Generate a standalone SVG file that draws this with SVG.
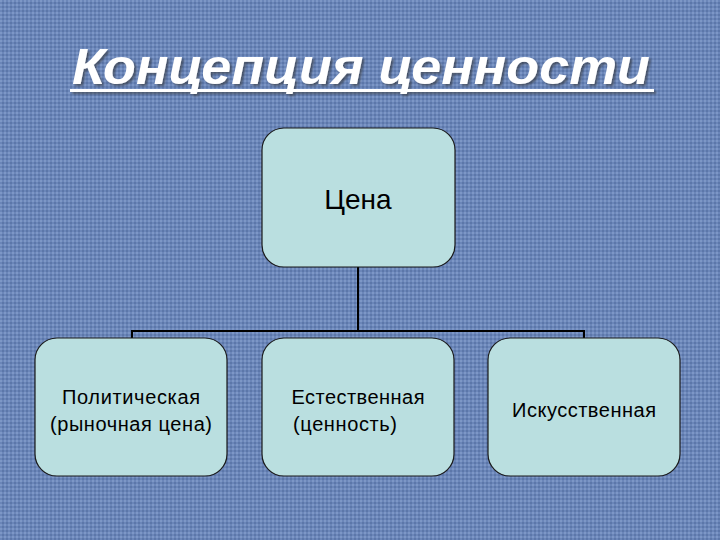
<svg xmlns="http://www.w3.org/2000/svg" width="720" height="540" viewBox="0 0 720 540">
<defs>
<pattern id="tex" width="4" height="4" patternUnits="userSpaceOnUse">
<rect width="4" height="4" fill="#6b86b9"/>
<rect width="2" height="2" fill="#7d97c6"/>
<rect x="2" y="2" width="2" height="2" fill="#5c77a9"/>
</pattern>
<filter id="sh"><feDropShadow dx="2" dy="2" stdDeviation="1" flood-color="#333" flood-opacity="0.6"/></filter>
</defs>
<style>
.box{fill:#badfe0;stroke:#1a1a1a;stroke-width:1.2}
.t{font-family:"Liberation Sans",Arial,sans-serif;font-size:20px;fill:#000;text-anchor:middle}
.c{stroke:#000;stroke-width:2;fill:none}
</style>
<rect width="720" height="540" fill="url(#tex)"/>
<g id="title" filter="url(#sh)">
<text x="72" y="84" textLength="578" lengthAdjust="spacingAndGlyphs" font-family="Liberation Sans,Arial,sans-serif" font-size="50" font-weight="bold" font-style="italic" fill="#fff">Концепция ценности</text>
<rect x="70" y="89" width="584" height="3" fill="#fff"/>
</g>
<g id="connectors">
<path class="c" d="M358 267 V331 M132 338 V331 H584 V338"/>
</g>
<g id="n0"><rect class="box" x="262" y="128" width="193" height="139" rx="22"/><text class="t" x="358" y="209" style="font-size:28px">Цена</text></g>
<g id="n1"><rect class="box" x="35" y="338" width="192" height="138" rx="22"/><text class="t" x="131" y="404" textLength="138">Политическая</text><text class="t" x="131" y="431" textLength="162">(рыночная цена)</text></g>
<g id="n2"><rect class="box" x="262" y="338" width="192" height="138" rx="22"/><text class="t" x="358" y="404" textLength="133">Естественная</text><text class="t" x="345" y="431" textLength="104">(ценность)</text></g>
<g id="n3"><rect class="box" x="488" y="338" width="192" height="138" rx="22"/><text class="t" x="584" y="417" textLength="144">Искусственная</text></g>
</svg>
